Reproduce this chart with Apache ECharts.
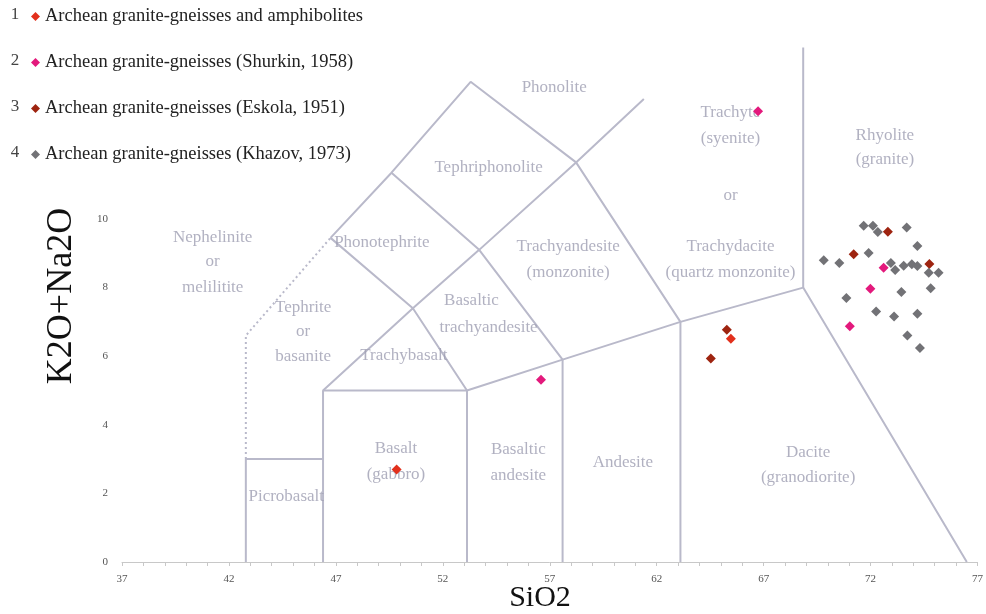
<!DOCTYPE html>
<html>
<head>
<meta charset="utf-8">
<script src="https://cdn.jsdelivr.net/npm/echarts@6/dist/echarts.min.js"></script>
<style>
  html, body { margin: 0; padding: 0; background: #ffffff; }
  #chart { width: 986px; height: 614px; }
</style>
</head>
<body>
<div id="chart"></div>
<script>
// ---- sample groups (SiO2, K2O+Na2O) ----
const groupNames = [
  'Archean granite-gneisses and amphibolites',
  'Archean granite-gneisses (Shurkin, 1958)',
  'Archean granite-gneisses (Eskola, 1951)',
  'Archean granite-gneisses (Khazov, 1973)'
];
const groupColors = ['#e2301c', '#e3197c', '#9e2410', '#727276'];

const amphibolites = [[49.84, 2.70], [65.47, 6.51]];
const shurkin = [[66.74, 13.14], [56.59, 5.31], [72.61, 8.58], [71.99, 7.97], [71.03, 6.87]];
const eskola = [[71.21, 8.97], [72.81, 9.63], [74.75, 8.69], [65.28, 6.77], [64.53, 5.93]];
const khazov = [
  [69.81, 8.80], [70.54, 8.72], [71.68, 9.80], [72.11, 9.80], [72.34, 9.62],
  [71.91, 9.01], [73.69, 9.75], [74.19, 9.21], [72.95, 8.72], [73.15, 8.51],
  [73.55, 8.64], [73.93, 8.68], [74.19, 8.63], [74.72, 8.43], [75.18, 8.43],
  [74.81, 7.98], [73.44, 7.87], [70.87, 7.70], [72.26, 7.30], [73.10, 7.16],
  [74.19, 7.24], [73.72, 6.60], [74.31, 6.24]
];

// ---- axis ticks ----
const xTickLabels = ['37', '42', '47', '52', '57', '62', '67', '72', '77'];
const yTickLabels = ['0', '2', '4', '6', '8', '10'];

// ---- TAS field boundaries (solid polylines) ----
const tasBoundaries = [
  [[42.79, 0], [42.79, 3], [46.40, 3]],
  [[46.40, 0], [46.40, 5], [53.13, 5], [53.13, 0]],
  [[57.60, 0], [57.60, 5.9]],
  [[63.11, 0], [63.11, 7]],
  [[53.13, 5], [57.60, 5.9], [63.11, 7], [68.85, 8], [76.50, 0]],
  [[68.85, 8], [68.85, 15]],
  [[46.40, 5], [50.60, 7.4], [53.13, 5]],
  [[46.75, 9.45], [50.60, 7.4], [53.70, 9.1], [58.23, 11.65], [61.40, 13.5]],
  [[46.75, 9.45], [49.60, 11.35], [53.30, 14], [58.23, 11.65], [63.11, 7]],
  [[49.60, 11.35], [53.70, 9.1], [57.60, 5.9]]
];
// foidite boundary, drawn dotted
const foiditeBoundary = [[42.79, 3], [42.79, 6.6], [46.75, 9.45]];

// ---- field names ----
const fieldLabels = [
  [57.21, 13.82, 'Phonolite'],
  [54.14, 11.49, 'Tephriphonolite'],
  [65.45, 13.09, 'Trachyte'],
  [65.45, 12.36, '(syenite)'],
  [65.45, 10.67, 'or'],
  [65.45, 9.21, 'Trachydacite'],
  [65.45, 8.45, '(quartz monzonite)'],
  [72.67, 12.42, 'Rhyolite'],
  [72.67, 11.72, '(granite)'],
  [41.24, 9.45, 'Nephelinite'],
  [41.24, 8.75, 'or'],
  [41.24, 7.99, 'melilitite'],
  [49.15, 9.30, 'Phonotephrite'],
  [57.86, 9.21, 'Trachyandesite'],
  [57.86, 8.45, '(monzonite)'],
  [45.47, 7.43, 'Tephrite'],
  [45.47, 6.73, 'or'],
  [45.47, 5.98, 'basanite'],
  [53.34, 7.61, 'Basaltic'],
  [54.14, 6.85, 'trachyandesite'],
  [50.18, 6.03, 'Trachybasalt'],
  [49.81, 3.32, 'Basalt'],
  [49.81, 2.54, '(gabbro)'],
  [55.53, 3.27, 'Basaltic'],
  [55.53, 2.51, 'andesite'],
  [60.42, 2.89, 'Andesite'],
  [69.08, 3.20, 'Dacite'],
  [69.08, 2.47, '(granodiorite)'],
  [44.68, 1.90, 'Picrobasalt']
];

const serif = '"Liberation Serif", "DejaVu Serif", serif';
const lineColor = '#b9b9ca';
const fieldTextColor = '#9d9db2';

const chart = echarts.init(document.getElementById('chart'), null, { renderer: 'canvas' });

const series = [];

tasBoundaries.forEach(function (poly) {
  series.push({
    type: 'line', data: poly, showSymbol: false, silent: true, z: 1,
    lineStyle: { color: lineColor, width: 2 }, animation: false
  });
});
series.push({
  type: 'line', data: foiditeBoundary, showSymbol: false, silent: true, z: 1,
  lineStyle: { color: lineColor, width: 2, type: [2, 3] }, animation: false
});

series.push({
  type: 'scatter', silent: true, z: 2, symbolSize: 0, animation: false,
  data: fieldLabels.map(function (d) { return { value: [d[0], d[1]], name: d[2] }; }),
  label: {
    show: true, position: 'inside', formatter: '{b}',
    fontFamily: serif, fontSize: 17, color: fieldTextColor
  }
});

const groups = [amphibolites, shurkin, eskola, khazov];
groups.forEach(function (pts, i) {
  series.push({
    name: groupNames[i], type: 'scatter', data: pts, z: 5,
    symbol: 'diamond', symbolSize: 10,
    itemStyle: { color: groupColors[i], opacity: 1 }, animation: false
  });
});

const legendRowY = [15, 61, 107, 153];

chart.setOption({
  animation: false,
  backgroundColor: '#ffffff',
  grid: { left: 122, right: 5, top: 47.5, bottom: 52, containLabel: false },
  legend: {
    data: groupNames, orient: 'vertical', left: 26, top: 2,
    icon: 'diamond', itemWidth: 9, itemHeight: 9, itemGap: 27,
    textStyle: { fontFamily: serif, fontSize: 18.5, color: '#222' },
    selectedMode: false
  },
  xAxis: {
    type: 'value', min: 37, max: 77, interval: 1,
    axisLine: { show: true, lineStyle: { color: '#c8c8c8', width: 1 } },
    axisTick: { show: true, length: 4, lineStyle: { color: '#c8c8c8' } },
    splitLine: { show: false },
    axisLabel: {
      margin: 12, fontFamily: serif, fontSize: 11, color: '#555',
      formatter: function (v) {
        const s = String(Math.round(v));
        return xTickLabels.indexOf(s) >= 0 ? s : '';
      }
    }
  },
  yAxis: {
    type: 'value', min: 0, max: 15, interval: 2,
    axisLine: { show: false },
    axisTick: { show: false },
    splitLine: { show: false },
    axisLabel: {
      margin: 14, fontFamily: serif, fontSize: 11, color: '#555',
      formatter: function (v) {
        const s = String(Math.round(v));
        return yTickLabels.indexOf(s) >= 0 ? s : '';
      }
    }
  },
  graphic: legendRowY.map(function (y, i) {
    return {
      type: 'text', x: 15, y: y,
      style: { text: String(i + 1), font: '17px ' + serif, fill: '#444', textAlign: 'center', textVerticalAlign: 'middle' }
    };
  }).concat([
    {
      type: 'text', x: 540, y: 598,
      style: { text: 'SiO2', font: '30px ' + serif, fill: '#111', textAlign: 'center', textVerticalAlign: 'middle' }
    },
    {
      type: 'text', x: 62, y: 296, rotation: Math.PI / 2,
      style: { text: 'K2O+Na2O', font: '36px ' + serif, fill: '#111', textAlign: 'center', textVerticalAlign: 'middle' }
    }
  ]),
  series: series
});
</script>
</body>
</html>
